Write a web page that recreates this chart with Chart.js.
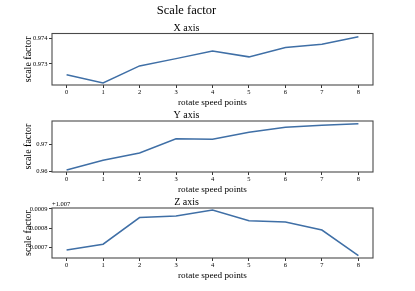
<!DOCTYPE html>
<html><head><meta charset="utf-8">
<script src="https://cdn.jsdelivr.net/npm/chart.js@4"></script>
<style>
html,body{margin:0;padding:0;background:#fff;}
#wrap{position:relative;width:415px;height:291px;overflow:hidden;background:#fff;}
canvas{position:absolute;left:0;}
</style></head><body>
<div id="wrap">
<canvas id="c1" width="415" height="110" style="top:0px;width:415px;height:110px"></canvas>
<canvas id="c2" width="415" height="87" style="top:110px;width:415px;height:87px"></canvas>
<canvas id="c3" width="415" height="86" style="top:197px;width:415px;height:86px"></canvas>
</div>
<script>
// ---- data ----
const speedPoints = [0, 1, 2, 3, 4, 5, 6, 7, 8];
const xAxisScale = [0.97257, 0.97224, 0.97292, 0.97321, 0.97351, 0.97328, 0.97365, 0.97378, 0.97408];
const yAxisScale = [0.96048, 0.96407, 0.96678, 0.97207, 0.97185, 0.97444, 0.97630, 0.97704, 0.97763];
const zAxisScale = [1.007686, 1.007716, 1.007855, 1.007863, 1.007895, 1.007839, 1.007832, 1.007790, 1.007656];
const zOffset = 1.007;
const xTickValues = [0.973, 0.974];
const yTickValues = [0.96, 0.97];
const zTickValues = [1.0077, 1.0078, 1.0079];
const figTitle = 'Scale factor';
const panelTitles = ['X axis', 'Y axis', 'Z axis'];
const xLabel = 'rotate speed points';
const yLabel = 'scale factor';

// ---- style ----
const FONT = "'Liberation Serif', 'Times New Roman', serif";
const LINE = '#3f6fa6';
Chart.defaults.font.family = FONT;
Chart.defaults.color = '#000';

const frame = {
  id: 'frame',
  afterDatasetsDraw(chart) {
    const {ctx, chartArea: a} = chart;
    ctx.save();
    ctx.strokeStyle = '#4a4a4a';
    ctx.lineWidth = 1.1;
    ctx.strokeRect(a.left, a.top, a.right - a.left, a.bottom - a.top);
    ctx.restore();
  }
};

function makeChart(id, cfg) {
  const plugins = {
    legend: {display: false},
    tooltip: {enabled: false},
    title: cfg.title,
    subtitle: cfg.subtitle || {display: false}
  };
  const extra = [frame];
  if (cfg.offsetText) {
    extra.push({
      id: 'offsetText',
      afterDraw(chart) {
        const {ctx, chartArea: a} = chart;
        ctx.save();
        ctx.font = '6.5px ' + FONT;
        ctx.fillStyle = '#000';
        ctx.textAlign = 'left';
        ctx.textBaseline = 'alphabetic';
        ctx.fillText(cfg.offsetText, a.left, a.top - 2.5);
        ctx.restore();
      }
    });
  }
  return new Chart(document.getElementById(id), {
    type: 'line',
    data: {
      datasets: [{
        data: speedPoints.map((p, i) => ({x: p, y: cfg.values[i]})),
        borderColor: LINE,
        borderWidth: 1.5,
        pointRadius: 0,
        tension: 0,
        fill: false
      }]
    },
    options: {
      responsive: false,
      animation: false,
      devicePixelRatio: 1,
      layout: {padding: {left: 0, right: 42, top: 0, bottom: 0}},
      plugins,
      scales: {
        x: {
          type: 'linear',
          min: -0.4, max: 8.4,
          afterBuildTicks: s => { s.ticks = speedPoints.map(v => ({value: v})); },
          afterFit: s => { s.height = 25; },
          grid: {display: true, drawOnChartArea: false, drawTicks: true, tickLength: 3, tickWidth: 1, tickColor: '#333'},
          border: {display: false},
          ticks: {autoSkip: false, maxRotation: 0, padding: 0.5, font: {size: 6.5}, color: '#000', callback: v => String(v)},
          title: {display: true, text: xLabel, font: {size: 9.2, lineHeight: 1.2}, padding: {top: 0, bottom: 1.5}, color: '#000'}
        },
        y: {
          type: 'linear',
          min: cfg.yMin, max: cfg.yMax,
          afterBuildTicks: s => { s.ticks = cfg.ticks.map(v => ({value: v})); },
          afterFit: s => { s.width = 52; },
          grid: {display: true, drawOnChartArea: false, drawTicks: true, tickLength: 3, tickWidth: 1, tickColor: '#333'},
          border: {display: false},
          ticks: {autoSkip: false, padding: 1.5, font: {size: 6.5}, color: '#000', callback: cfg.fmt},
          title: {display: true, text: yLabel, font: {size: 10, lineHeight: 1.2}, padding: {top: 22, bottom: 0}, color: '#000'}
        }
      }
    },
    plugins: extra
  });
}

makeChart('c1', {
  values: xAxisScale,
  yMin: 0.97216, yMax: 0.97421,
  ticks: xTickValues,
  fmt: v => v.toFixed(3),
  title: {display: true, text: figTitle, font: {size: 12.5, lineHeight: 1.2, weight: 'normal'}, padding: {top: 3.5, bottom: 0}, color: '#000'},
  subtitle: {display: true, text: panelTitles[0], font: {size: 10, lineHeight: 1, weight: 'normal'}, padding: {top: 4.8, bottom: 0.2}, color: '#000'}
});

makeChart('c2', {
  values: yAxisScale,
  yMin: 0.95974, yMax: 0.97863,
  ticks: yTickValues,
  fmt: v => v.toFixed(2),
  title: {display: true, text: panelTitles[1], font: {size: 10, lineHeight: 1, weight: 'normal'}, padding: {top: 0, bottom: 1}, color: '#000'}
});

makeChart('c3', {
  values: zAxisScale,
  yMin: 1.007644, yMax: 1.007905,
  ticks: zTickValues,
  fmt: v => (v - zOffset).toFixed(4),
  offsetText: '+' + zOffset,
  title: {display: true, text: panelTitles[2], font: {size: 10, lineHeight: 1, weight: 'normal'}, padding: {top: 0, bottom: 1}, color: '#000'}
});
</script>
</body></html>
